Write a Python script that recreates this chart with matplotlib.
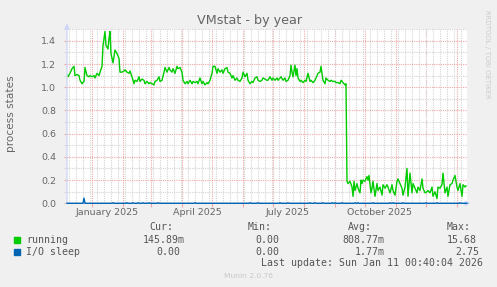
import numpy as np
import pandas as pd
import matplotlib
matplotlib.use("Agg")
import matplotlib.pyplot as plt
from matplotlib.ticker import FixedLocator, FormatStrFormatter

# time span of the munin "by year" graph
start = pd.Timestamp("2024-12-07 00:40")
end = pd.Timestamp("2026-01-11 00:40")

# running processes (day offset from start, value)
run_days = [0, 1, 3, 5, 7, 8, 10, 12, 13, 15, 17, 18, 20, 22, 23, 25, 27, 28, 30, 32,
            33, 35, 36, 37, 38, 39, 41, 42, 43, 44, 45, 46, 48, 50, 52, 53, 55, 57, 58, 60,
            62, 63, 65, 67, 68, 70, 72, 73, 75, 77, 78, 80, 82, 83, 85, 87, 88, 90, 92, 93,
            95, 97, 98, 100, 102, 103, 105, 106, 108, 110, 111, 113, 115, 116, 118, 120, 121, 123, 125, 126,
            128, 130, 131, 133, 135, 136, 138, 140, 141, 143, 145, 146, 148, 150, 151, 153, 155, 156, 158, 160,
            161, 163, 165, 166, 168, 170, 171, 173, 175, 176, 178, 180, 181, 183, 185, 186, 188, 190, 191, 193,
            195, 196, 198, 200, 201, 203, 205, 206, 208, 210, 211, 213, 214, 216, 218, 219, 221, 223, 224, 225,
            226, 228, 229, 230, 231, 233, 234, 236, 238, 239, 241, 243, 244, 246, 248, 249, 251, 253, 254, 255,
            256, 258, 259, 261, 263, 264, 266, 268, 269, 271, 273, 274, 275, 276, 278, 279, 280, 281, 283, 285,
            286, 287, 288, 290, 291, 293, 294, 295, 296, 298, 300, 301, 302, 304, 305, 306, 308, 310, 311, 313,
            315, 316, 318, 320, 321, 323, 325, 326, 328, 330, 331, 333, 335, 336, 338, 340, 341, 343, 345, 346,
            348, 350, 351, 353, 355, 356, 358, 360, 361, 363, 365, 366, 368, 370, 371, 373, 375, 376, 378, 380,
            381, 383, 385, 386, 388, 390, 391, 393, 395, 396, 398, 399]
run_vals = [1.11, 1.09, 1.12, 1.16, 1.18, 1.10, 1.11, 1.10, 1.06, 1.03, 1.05, 1.17, 1.10, 1.09, 1.10, 1.09, 1.10, 1.08, 1.12, 1.10,
            1.13, 1.18, 1.36, 1.42, 1.48, 1.36, 1.33, 1.42, 1.48, 1.29, 1.25, 1.21, 1.32, 1.29, 1.25, 1.13, 1.13, 1.14, 1.15, 1.13,
            1.12, 1.14, 1.09, 1.03, 1.06, 1.05, 1.09, 1.05, 1.07, 1.06, 1.03, 1.05, 1.03, 1.04, 1.03, 1.02, 1.05, 1.06, 1.09, 1.05,
            1.06, 1.13, 1.17, 1.13, 1.17, 1.15, 1.13, 1.16, 1.12, 1.18, 1.16, 1.17, 1.13, 1.06, 1.03, 1.05, 1.03, 1.06, 1.03, 1.05,
            1.04, 1.05, 1.03, 1.08, 1.03, 1.05, 1.02, 1.04, 1.03, 1.06, 1.12, 1.18, 1.18, 1.12, 1.16, 1.13, 1.15, 1.12, 1.16, 1.17,
            1.13, 1.12, 1.08, 1.10, 1.06, 1.08, 1.06, 1.05, 1.08, 1.13, 1.09, 1.12, 1.06, 1.03, 1.05, 1.04, 1.08, 1.09, 1.06, 1.05,
            1.06, 1.08, 1.07, 1.06, 1.06, 1.09, 1.06, 1.08, 1.06, 1.08, 1.06, 1.08, 1.09, 1.06, 1.08, 1.05, 1.06, 1.10, 1.19, 1.13,
            1.09, 1.19, 1.10, 1.16, 1.08, 1.05, 1.06, 1.04, 1.06, 1.05, 1.12, 1.05, 1.06, 1.04, 1.06, 1.08, 1.12, 1.13, 1.18, 1.12,
            1.06, 1.03, 1.08, 1.06, 1.05, 1.06, 1.05, 1.05, 1.04, 1.04, 1.03, 1.06, 1.05, 1.04, 1.02, 1.03, 0.19, 0.17, 0.19, 0.14,
            0.06, 0.19, 0.11, 0.17, 0.13, 0.09, 0.20, 0.17, 0.20, 0.19, 0.23, 0.20, 0.24, 0.09, 0.13, 0.19, 0.06, 0.17, 0.11, 0.14,
            0.07, 0.16, 0.13, 0.16, 0.14, 0.09, 0.16, 0.11, 0.07, 0.19, 0.21, 0.17, 0.13, 0.07, 0.14, 0.30, 0.06, 0.26, 0.09, 0.17,
            0.13, 0.09, 0.14, 0.11, 0.21, 0.13, 0.09, 0.10, 0.11, 0.09, 0.14, 0.06, 0.10, 0.04, 0.14, 0.13, 0.16, 0.26, 0.09, 0.14,
            0.06, 0.16, 0.17, 0.20, 0.24, 0.14, 0.11, 0.17, 0.06, 0.16, 0.14, 0.15]

# I/O sleep: zero except for these days
io_days = [17, 46, 60, 66, 71, 76, 82, 91, 128, 183, 191, 213, 221, 243, 248, 256, 265, 268,
           275, 288, 291, 306, 323, 326, 336, 359, 370, 393]
io_vals = [0.045] + [0.005] * 27

month_labels = ["January 2025", "April 2025", "July 2025", "October 2025"]
label_dates = ["2025-01-16", "2025-04-16", "2025-07-16", "2025-10-16"]

# legend table
col_heads = ["Cur:", "Min:", "Avg:", "Max:"]
running_stats = ["145.89m", "0.00", "808.77m", "15.68"]
io_stats = ["0.00", "0.00", "1.77m", "2.75"]

GREEN = "#00CC00"
BLUE = "#0066B3"
FONT = "#666666"
AXIS = "#CFD6F8"

W, H = 497, 287
fig = plt.figure(figsize=(W / 100, H / 100), dpi=100, facecolor="#F0F0F0")
ax = fig.add_axes([67 / W, (H - 203.3) / H, 400 / W, 174.1 / H], facecolor="white")

run_x = [start + pd.Timedelta(days=d) for d in run_days]
io_full = np.zeros(401)
io_full[io_days] = io_vals
io_x = [start + pd.Timedelta(days=d) for d in range(401)]

ax.plot(run_x, run_vals, color=GREEN, lw=1.0, zorder=3)
ax.plot(io_x, io_full, color=BLUE, lw=1.0, zorder=4, clip_on=False)

ax.set_xlim(start, end)
ax.set_ylim(0, 1.5)

# grid: monthly red major, weekly grey minor
months = pd.date_range("2025-01-01", "2026-01-01", freq="MS")
weeks = pd.date_range(start, end, freq="W-MON")
import matplotlib.dates as mdates
ax.xaxis.set_major_locator(FixedLocator(mdates.date2num(months)))
ax.xaxis.set_minor_locator(FixedLocator(mdates.date2num(weeks)))
ax.yaxis.set_major_locator(FixedLocator(np.arange(0, 1.41, 0.2)))
ax.yaxis.set_minor_locator(FixedLocator(np.arange(0.1, 1.51, 0.2)))
ax.yaxis.set_major_formatter(FormatStrFormatter("%.1f"))
ax.set_axisbelow(True)
ax.grid(which="minor", color="#D4D4D4", lw=0.8, linestyle=(0, (1, 1)))
ax.grid(which="major", color="#EFA8A8", lw=0.8, linestyle=(0, (1, 1)))
ax.tick_params(axis="x", which="major", length=3, color="#EFA8A8", labelbottom=False)
ax.tick_params(axis="x", which="minor", length=0)
ax.tick_params(axis="y", which="major", length=2, color="#EFA8A8", labelsize=6.8,
               labelcolor=FONT, pad=6)
ax.tick_params(axis="y", which="minor", length=2, color="#D4D4D4")
for s in ax.spines.values():
    s.set_visible(False)

trans = ax.get_xaxis_transform()
for lab, d in zip(month_labels, label_dates):
    ax.text(pd.Timestamp(d), -0.052, lab, transform=trans, ha="center", va="center",
            fontsize=6.8, color=FONT)

# axis lines with arrows
ax.annotate("", xy=(0, 1.05), xytext=(0, -0.015), xycoords="axes fraction",
            arrowprops=dict(arrowstyle="-|>", color=AXIS, lw=1, mutation_scale=7))
ax.annotate("", xy=(1.016, 0), xytext=(-0.01, 0), xycoords="axes fraction",
            arrowprops=dict(arrowstyle="-|>", color=AXIS, lw=1, mutation_scale=7))

fig.text(249.5 / W, (H - 24) / H, "VMstat - by year", ha="center", va="baseline",
         fontsize=9.2, color=FONT)
fig.text(11 / W, (H - 114) / H, "process states", rotation=90, ha="center", va="center",
         fontsize=7.6, color=FONT)
fig.text(487 / W, (H - 54) / H, "RRDTOOL / TOBI OETIKER", rotation=270, ha="center",
         va="center", fontsize=5.0, color="#CCCCCC")

mono = dict(family="DejaVu Sans Mono", fontsize=7.1, color="#555555", va="center")
head_x = [149, 248, 348, 447]
for t, x in zip(col_heads, head_x):
    fig.text(x / W, (H - 227.5) / H, t, **mono)
run_x0 = [143, 255, 342, 447]
io_x0 = [156, 255, 355, 455]
rows = [("running", GREEN, running_stats, run_x0, 240.0),
        ("I/O sleep", BLUE, io_stats, io_x0, 251.7)]
for name, col, stats, xs, y in rows:
    fig.patches.append(plt.Rectangle((14 / W, (H - y - 3) / H), 6 / W, 6 / H,
                                     transform=fig.transFigure, color=col))
    fig.text(26.5 / W, (H - y) / H, name, **mono)
    for t, x in zip(stats, xs):
        fig.text(x / W, (H - y) / H, t, **mono)
fig.text(483 / W, (H - 263.5) / H, "Last update: Sun Jan 11 00:40:04 2026", ha="right", **mono)
fig.text(248 / W, (H - 276.5) / H, "Munin 2.0.76", ha="center", va="center",
         fontsize=5.4, color="#C8C8C8")

fig.savefig("out.png", dpi=100, facecolor=fig.get_facecolor())
